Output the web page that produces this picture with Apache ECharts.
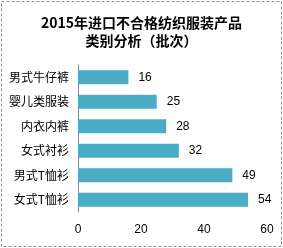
<!DOCTYPE html>
<html><head><meta charset="utf-8">
<script src="https://cdn.jsdelivr.net/npm/echarts@6/dist/echarts.min.js"></script>
<style>html,body{margin:0;padding:0;background:#fff}#c{width:283px;height:248px}</style>
</head><body><div id="c"></div>
<script>
const titleText = '2015年进口不合格纺织服装产品\n类别分析（批次）';
const categories = ['男式牛仔裤', '婴儿类服装', '内衣内裤', '女式衬衫', '男式T恤衫', '女式T恤衫'];
const values = [16, 25, 28, 32, 49, 54];
const xTicks = { min: 0, max: 60, interval: 20 };

const chart = echarts.init(document.getElementById('c'));
chart.setOption({
  animation: false,
  backgroundColor: '#fff',
  title: {
    text: titleText, left: 'center', top: 9,
    textStyle: { fontFamily: 'Noto Sans CJK SC', fontSize: 14, fontWeight: 'bold', color: '#000', lineHeight: 18 }
  },
  graphic: [{
    type: 'rect', shape: { x: 1.5, y: 1.5, width: 280, height: 245 },
    style: { fill: null, stroke: '#8c8c8c', lineWidth: 1, lineDash: [3, 2] }, silent: true
  }],
  grid: { left: 78, right: 16, top: 65, bottom: 36, containLabel: false },
  xAxis: {
    type: 'value', min: xTicks.min, max: xTicks.max, interval: xTicks.interval,
    axisLine: { show: false }, axisTick: { show: false }, splitLine: { show: false },
    axisLabel: { fontFamily: 'Liberation Sans', fontSize: 12, color: '#000', margin: 12 }
  },
  yAxis: {
    type: 'category', data: categories, inverse: true,
    axisLine: { show: true, lineStyle: { color: '#868686', width: 1 } },
    axisTick: { show: false },
    axisLabel: { fontFamily: 'Noto Sans CJK SC', fontSize: 12, color: '#000', margin: 9 }
  },
  series: [{
    type: 'bar', data: values, barCategoryGap: '43%',
    itemStyle: { color: '#4BACC6' },
    label: { show: true, position: 'right', distance: 10, fontFamily: 'Liberation Sans', fontSize: 12, color: '#000' }
  }]
});
</script></body></html>
